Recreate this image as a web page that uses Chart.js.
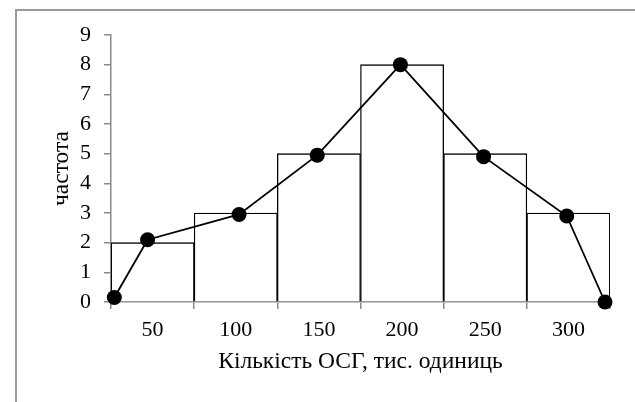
<!DOCTYPE html>
<html>
<head>
<meta charset="utf-8">
<script src="https://cdn.jsdelivr.net/npm/chart.js@4.4.1/dist/chart.umd.min.js"></script>
<style>
  html, body { margin: 0; padding: 0; background: #fff; overflow: hidden; }
  #wrap { position: relative; width: 635px; height: 402px; }
  #frame {
    position: absolute; left: 15px; top: 9px; width: 700px; height: 500px;
    border-top: 2px solid #9a9a9a; border-left: 2px solid #9a9a9a;
  }
  canvas { position: absolute; left: 0; top: 0; }
</style>
</head>
<body>
<div id="wrap">
  <div id="frame"></div>
  <canvas id="chart" width="635" height="402"></canvas>
</div>
<script>
// histogram classes and frequencies
const categories = ['50', '100', '150', '200', '250', '300'];
const frequencies = [2, 3, 5, 8, 5, 3];

// frequency polygon (x in the same units as the class labels)
const polygonX = [27, 47, 102, 149, 199, 249, 299, 322];
const polygonY = [0.15, 2.1, 2.95, 4.95, 8, 4.9, 2.9, 0];

const yMin = 0;
const yMax = 9;
const xMin = 25;
const xMax = 325;

const serif = '"Liberation Serif", "Times New Roman", serif';
const axisGray = '#8a8a8a';

new Chart(document.getElementById('chart'), {
  data: {
    labels: categories,
    datasets: [
      {
        type: 'line',
        data: polygonX.map((x, i) => ({ x, y: polygonY[i] })),
        xAxisID: 'xl',
        yAxisID: 'y',
        borderColor: '#000',
        borderWidth: 1.8,
        pointRadius: 7.5,
        pointBackgroundColor: '#000',
        pointBorderColor: '#000',
        pointBorderWidth: 0,
        tension: 0,
        clip: false,
        order: 0,
      },
      {
        type: 'bar',
        data: frequencies,
        xAxisID: 'x',
        yAxisID: 'y',
        backgroundColor: '#fff',
        borderColor: '#000',
        borderWidth: 1.3,
        barPercentage: 1,
        categoryPercentage: 1,
        grouped: false,
        order: 1,
      },
    ],
  },
  options: {
    responsive: false,
    animation: false,
    events: [],
    layout: { padding: { left: 0, right: 25, top: 35, bottom: 0 } },
    plugins: { legend: { display: false }, tooltip: { enabled: false } },
    scales: {
      x: {
        type: 'category',
        offset: true,
        afterFit: (s) => { s.height = 100; },
        grid: { offset: true, drawOnChartArea: false, drawTicks: true, tickLength: 7, color: axisGray, lineWidth: 1.5 },
        border: { color: axisGray, width: 1.5 },
        ticks: { color: '#000', font: { family: serif, size: 22 }, padding: 8, maxRotation: 0 },
        title: {
          display: true,
          text: 'Кількість ОСГ, тис. одиниць',
          color: '#000',
          font: { family: serif, size: 23.5 },
          padding: { top: 0, bottom: 26 },
        },
      },
      xl: {
        type: 'linear',
        display: false,
        min: xMin,
        max: xMax,
      },
      y: {
        min: yMin,
        max: yMax,
        afterFit: (s) => { s.width = 111; },
        grid: { drawOnChartArea: false, drawTicks: true, tickLength: 7, color: axisGray, lineWidth: 1.5 },
        border: { color: axisGray, width: 1.5 },
        ticks: { stepSize: 1, color: '#000', font: { family: serif, size: 22 }, padding: 13 },
        title: {
          display: true,
          text: 'частота',
          color: '#000',
          font: { family: serif, size: 23.5 },
          padding: { top: 48, bottom: 0 },
        },
      },
    },
  },
});
</script>
</body>
</html>
